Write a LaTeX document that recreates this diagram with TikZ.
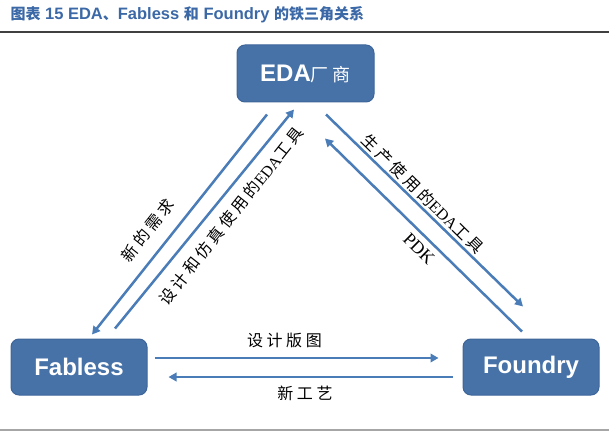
\documentclass[tikz,border=0pt]{standalone}
\usepackage{fontspec}
\setmainfont{Liberation Serif}
\setsansfont{Liberation Sans}
\newfontfamily\cjk[LetterSpace=22]{Noto Sans CJK SC}
\newfontfamily\cjktitle{Noto Sans CJK SC}
\usetikzlibrary{arrows.meta,calc}
\definecolor{boxblue}{HTML}{4672A8}
\definecolor{boxedge}{HTML}{3E659A}
\definecolor{flowblue}{HTML}{4A7CB8}
\definecolor{titleblue}{HTML}{3B68A6}

\begin{document}
\begin{tikzpicture}[x=1pt, y=1pt,
  box/.style={draw=boxedge, fill=boxblue, line width=1pt, rounded corners=8pt, minimum width=136pt, minimum height=56pt, text=white, font=\sffamily\bfseries\fontsize{24}{28}\selectfont},
  flow/.style={line width=2.5pt, color=flowblue, -{Triangle[length=8pt,width=8.5pt]}},
  lab/.style={font=\fontsize{16}{18}\selectfont, inner sep=0pt}]
\useasboundingbox (0,0) rectangle (609,434);

\node[anchor=west, text=titleblue, font=\sffamily\bfseries\fontsize{16.5}{18}\selectfont] (title) at (7,419) {{\cjktitle\fontsize{15}{16}\selectfont 图表}\ 15 EDA{\cjktitle\fontsize{15}{16}\selectfont 、}Fabless {\cjktitle\fontsize{15}{16}\selectfont 和} Foundry {\cjktitle\fontsize{15}{16}\selectfont 的铁三角关系}};
\draw[line width=1.5pt, color=black!75] (0,402) -- (609,402);
\draw[line width=1.5pt, color=black!35] (0,4) -- (609,4);

\node[box, minimum width=137pt, minimum height=57pt] (eda) at (305.5,360.5) {EDA{\cjk\mdseries\fontsize{18}{20}\selectfont 厂商}};
\node[box] (fabless) at (79,67) {Fabless};
\node[box] (foundry) at (531,67) {Foundry};

\coordinate (needs start) at ($(eda.south)+(-38.5,-12)$);
\coordinate (needs end) at ($(fabless.north)+(13,4)$);
\coordinate (tools start) at ($(fabless.north)+(36,10)$);
\coordinate (tools end) at ($(eda.south)+(-11.5,-7)$);
\coordinate (fabtools start) at ($(eda.south)+(20.5,-12)$);
\coordinate (fabtools end) at ($(foundry.north)+(-8,32)$);
\coordinate (pdk start) at ($(foundry.north)+(-9,7)$);
\coordinate (pdk end) at ($(eda.south)+(19.5,-36)$);
\coordinate (layout start) at ($(fabless.east)+(7,9)$);
\coordinate (layout end) at ($(foundry.west)+(-24,9)$);
\coordinate (process start) at ($(foundry.west)+(-10,-10)$);
\coordinate (process end) at ($(fabless.east)+(21,-10)$);

\draw[flow] (needs start) -- (needs end) {};
\draw[flow] (tools start) -- (tools end) {};
\draw[flow] (fabtools start) -- (fabtools end) {};
\draw[flow] (pdk start) -- (pdk end) {};
\draw[flow] (layout start) -- (layout end) {};
\draw[flow] (process start) -- (process end) {};

\node[lab, rotate=51.6] (newneeds) at (148,204) {\cjk 新的需求};
\node[lab, rotate=51.6] (designtools) at (231,218) {{\cjk 设计和仿真使用的}EDA{\cjk 工具}};
\node[lab, rotate=-44.4] (fabtoolslabel) at (423,240) {{\cjk 生产使用的}EDA{\cjk 工具}};
\node[lab, rotate=-44.4, font=\fontsize{18}{20}\selectfont] (pdklabel) at (419,185) {PDK};
\node[lab] (layoutlabel) at (284.5,93.5) {\cjk 设计版图};
\node[lab] (processlabel) at (305,40.5) {\cjk 新工艺};
\end{tikzpicture}
\end{document}
